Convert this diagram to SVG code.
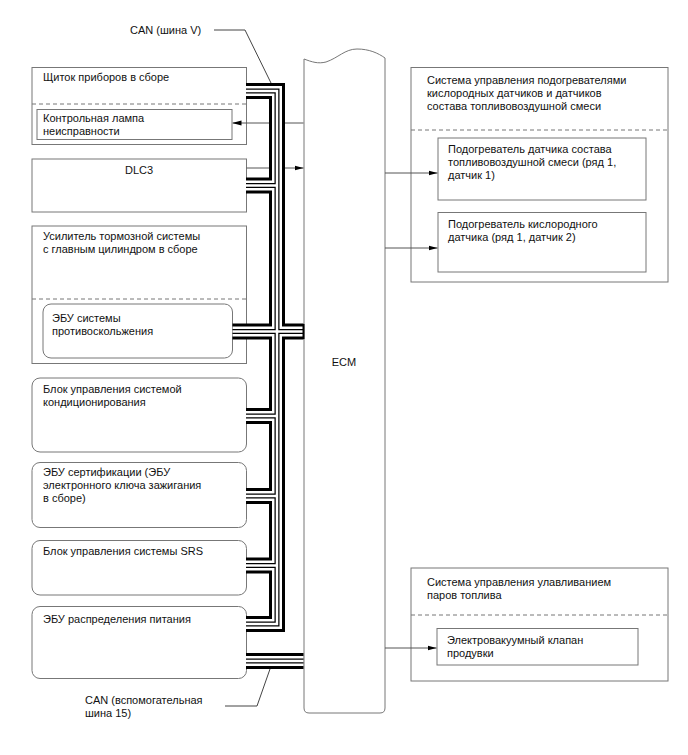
<svg xmlns="http://www.w3.org/2000/svg" width="688" height="755" viewBox="0 0 688 755">
<style>
.box{fill:#fff;stroke:#777;stroke-width:1}
.dash{stroke:#777;stroke-width:1;stroke-dasharray:4,3;fill:none}
.t{font-family:"Liberation Sans",Arial,sans-serif;font-size:11px;fill:#111}
.sig{stroke:#555;stroke-width:1;fill:none}
.b1{fill:none;stroke:#000;stroke-width:16;stroke-linejoin:miter}
.b2{fill:none;stroke:#fff;stroke-width:10;stroke-linejoin:miter}
.b3{fill:none;stroke:#000;stroke-width:5;stroke-linejoin:miter}
.b4{fill:none;stroke:#fff;stroke-width:2.5;stroke-linejoin:miter}
.ptr{stroke:#444;stroke-width:1;fill:none}
</style>
<defs>
<marker id="ar" markerWidth="9" markerHeight="6" refX="9" refY="3" orient="auto" markerUnits="userSpaceOnUse">
<path d="M0,0.5 L9,3 L0,5.5 Z" fill="#000"/>
</marker>
<path id="p1" d="M246,91 H277 V624 H246"/>
<path id="p2" d="M246,185.5 H277"/>
<path id="p3" d="M232.5,331.5 H303.5"/>
<path id="p4" d="M246,416 H277"/>
<path id="p5" d="M246,496 H277"/>
<path id="p6" d="M246,565.5 H277"/>
<path id="p7" d="M246,661 H303.5"/>
</defs>
<rect width="688" height="755" fill="#fff"/>

<g id="ecm">
<path class="box" d="M304,59 C312,62 318,64 326,62 C338,58 345,49 357,49 C369,49 378,53 385,58 V708 Q385,713 380,713 H309 Q304,713 304,708 Z"/>
<text class="t" x="344" y="366" text-anchor="middle">ECM</text>
</g>

<g id="combimeter">
<rect class="box" x="32" y="67.5" width="214.5" height="77"/>
<line class="dash" x1="32" y1="104" x2="246.5" y2="104"/>
<text class="t" x="43" y="81">Щиток приборов в сборе</text>
<rect class="box" x="37" y="109.5" width="195" height="30"/>
<text class="t" x="43" y="122">Контрольная лампа</text>
<text class="t" x="43" y="135">неисправности</text>
</g>

<g id="dlc3">
<rect class="box" x="32" y="159" width="214.5" height="53"/>
<text class="t" x="139" y="174" text-anchor="middle">DLC3</text>
</g>

<g id="brake">
<rect class="box" x="32" y="226" width="214.5" height="137.5"/>
<text class="t" x="43" y="240">Усилитель тормозной системы</text>
<text class="t" x="43" y="253">с главным цилиндром в сборе</text>
<line class="dash" x1="32" y1="299" x2="246.5" y2="299"/>
<rect class="box" x="43" y="304" width="189.5" height="54" rx="8"/>
<text class="t" x="52" y="322">ЭБУ системы</text>
<text class="t" x="52" y="335">противоскольжения</text>
</g>

<g id="aircon">
<rect class="box" x="32" y="378" width="214.5" height="74" rx="8"/>
<text class="t" x="43" y="393">Блок управления системой</text>
<text class="t" x="43" y="406">кондиционирования</text>
</g>

<g id="certification">
<rect class="box" x="32" y="462.5" width="214.5" height="65" rx="8"/>
<text class="t" x="43" y="476">ЭБУ сертификации (ЭБУ</text>
<text class="t" x="43" y="489">электронного ключа зажигания</text>
<text class="t" x="43" y="502">в сборе)</text>
</g>

<g id="srs">
<rect class="box" x="32" y="540.5" width="214.5" height="54.5" rx="8"/>
<text class="t" x="43" y="555">Блок управления системы SRS</text>
</g>

<g id="powerdist">
<rect class="box" x="32" y="606.5" width="214.5" height="72" rx="8"/>
<text class="t" x="43" y="623">ЭБУ распределения питания</text>
</g>

<g id="afheater">
<rect class="box" x="411" y="67.5" width="257" height="214.5"/>
<text class="t" x="427" y="84">Система управления подогревателями</text>
<text class="t" x="427" y="97">кислородных датчиков и датчиков</text>
<text class="t" x="427" y="110">состава топливовоздушной смеси</text>
<line class="dash" x1="411" y1="130" x2="668" y2="130"/>
<rect class="box" x="438" y="138" width="208" height="62"/>
<text class="t" x="448" y="153">Подогреватель датчика состава</text>
<text class="t" x="448" y="166">топливовоздушной смеси (ряд 1,</text>
<text class="t" x="448" y="179">датчик 1)</text>
<rect class="box" x="438" y="212.5" width="208" height="59.5"/>
<text class="t" x="448" y="228">Подогреватель кислородного</text>
<text class="t" x="448" y="241">датчика (ряд 1, датчик 2)</text>
</g>

<g id="evap">
<rect class="box" x="411" y="568" width="257" height="113"/>
<text class="t" x="427" y="586">Система управления улавливанием</text>
<text class="t" x="427" y="599">паров топлива</text>
<line class="dash" x1="411" y1="615" x2="668" y2="615"/>
<rect class="box" x="437" y="628.5" width="201" height="36.5"/>
<text class="t" x="447" y="644">Электровакуумный клапан</text>
<text class="t" x="447" y="657">продувки</text>
</g>

<g id="connectors">
<line class="sig" x1="303.5" y1="123" x2="232.5" y2="123" marker-end="url(#ar)"/>
<line class="sig" x1="246.5" y1="168" x2="303.5" y2="168" marker-end="url(#ar)"/>
<line class="sig" x1="385" y1="173" x2="437.5" y2="173" marker-end="url(#ar)"/>
<line class="sig" x1="385" y1="248" x2="437.5" y2="248" marker-end="url(#ar)"/>
<line class="sig" x1="385" y1="648" x2="436.5" y2="648" marker-end="url(#ar)"/>
<g class="b1"><use href="#p1"/><use href="#p2"/><use href="#p3"/><use href="#p4"/><use href="#p5"/><use href="#p6"/><use href="#p7"/></g>
<g class="b2"><use href="#p1"/><use href="#p2"/><use href="#p3"/><use href="#p4"/><use href="#p5"/><use href="#p6"/><use href="#p7"/></g>
<g class="b3"><use href="#p1"/><use href="#p2"/><use href="#p3"/><use href="#p4"/><use href="#p5"/><use href="#p6"/><use href="#p7"/></g>
<g class="b4"><use href="#p1"/><use href="#p2"/><use href="#p3"/><use href="#p4"/><use href="#p5"/><use href="#p6"/><use href="#p7"/></g>
<line x1="303.5" y1="324" x2="303.5" y2="339" stroke="#000" stroke-width="2"/>
<polyline class="ptr" points="214,30 245,30 271,83"/>
<polyline class="ptr" points="225,706 257,706 270,669"/>
</g>

<text class="t" x="130" y="34">CAN (шина V)</text>
<text class="t" x="85" y="704">CAN (вспомогательная</text>
<text class="t" x="85" y="717">шина 15)</text>
</svg>
